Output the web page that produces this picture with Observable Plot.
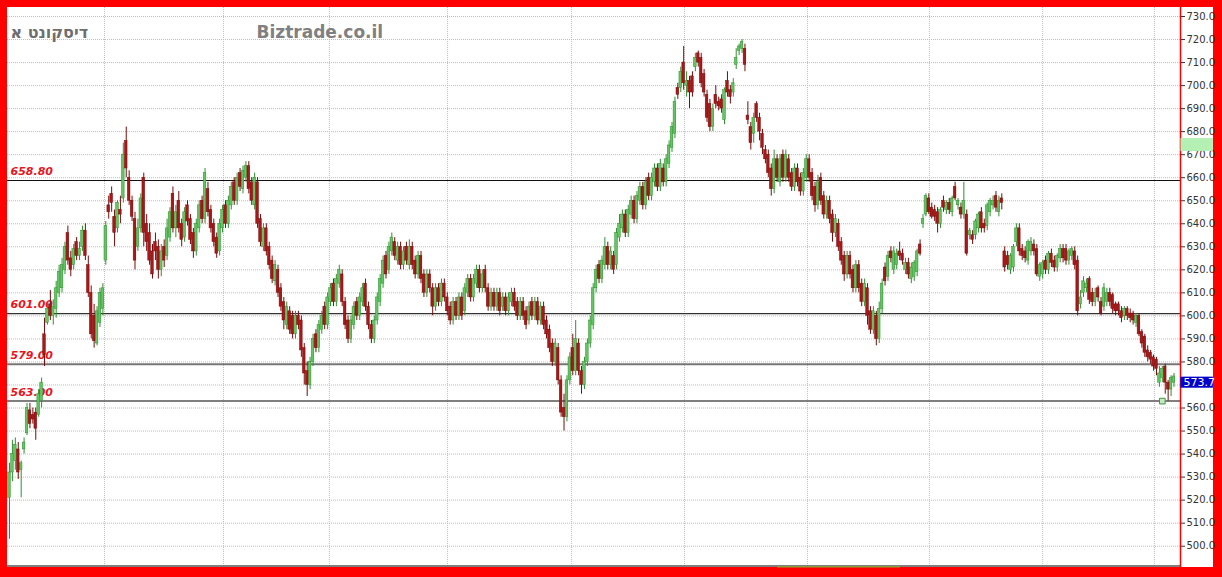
<!DOCTYPE html>
<html><head><meta charset="utf-8">
<script src="https://cdn.jsdelivr.net/npm/d3@7"></script>
<script src="https://cdn.jsdelivr.net/npm/@observablehq/plot@0.6"></script>
<style>
html,body{margin:0;padding:0;background:#fff;}
#frame{position:relative;width:1222px;height:577px;background:#ff0000;box-sizing:border-box;padding:7px 9px 10px 7px;}
#chart svg{display:block;background:#fff;}
</style></head><body>
<div id="frame"><div id="chart"></div></div>
<script>
const titleText = "דיסקונט א";
const siteText = "Biztrade.co.il";
const yGrid = [500,510,520,530,540,550,560,570,580,590,600,610,620,630,640,650,660,670,680,690,700,710,720,730];
const yTickLabels = [500,510,520,530,540,550,560,580,590,600,610,620,630,640,650,660,670,680,690,700,710,720,730];
const gridIdx = [32.55,73.3,109.6,150.1,192.6,231.3,273.4,315.2,354.0,392.3];
const levels = [658.8,601,579,563];
const lastPrice = 573.7;
const markerIdx = 395, markerPrice = 563;
const axisBand = [671.4,677.0];
const scrollIdx = [263.2,305.3];

const opens = [
521,532,537,542,533,542,549,559,557,558,
557,563,592,597,605,600,603,610,612,620,
636,625,622,632,626,630,637,622,610,600,
588,597,603,624,648,653,643,638,646,651,
676,660,650,642,630,638,660,640,636,628,
632,630,620,630,626,634,653,638,650,640,
634,648,642,636,628,638,650,642,655,646,
640,634,628,638,648,640,648,658,650,662,
655,660,665,658,648,658,642,630,638,630,
624,615,620,612,606,596,602,600,592,600,
598,586,576,570,580,592,586,594,604,596,
606,614,606,614,618,606,598,590,596,606,
600,606,614,604,596,590,598,606,614,626,
620,628,632,624,630,622,630,622,630,624,
618,626,618,610,618,612,604,612,606,614,
608,604,598,606,600,608,602,610,616,608,
614,620,612,620,612,604,610,604,610,604,
608,602,606,610,606,600,606,602,598,606,
600,606,598,604,598,594,588,580,586,572,
560,556,572,586,576,588,576,570,580,588,
596,612,622,616,622,630,622,626,622,634,
638,644,636,644,650,642,650,656,648,660,
652,658,664,656,664,658,666,673,679,699,
699,710,700,702,704,708,714,712,705,696,
692,682,696,693,694,685,702,698,697,709,
715,716,716,687,682,679,692,686,679,672,
670,664,655,668,658,670,660,668,662,656,
664,660,654,660,668,662,656,648,660,652,
644,650,644,636,640,632,626,618,626,620,
612,622,614,606,612,602,594,600,590,603,
621,617,628,620,622,628,627,620,623,616,
617,619,631,640,644,651,647,646,645,640,
650,646,649,645,656,648,647,644,644,635,
635,635,638,645,640,639,645,648,652,645,
651,628,626,620,621,632,638,629,628,624,
628,631,629,617,618,624,620,627,624,621,
625,629,629,624,626,628,624,605,610,612,
616,610,606,612,606,604,606,610,609,605,
605,602,600,603,601,601,597,600,593,591,
585,584,582,581,571,573,578,571,568,571];
const highs = [
536,546,547,545,537,547,562,562,560,560,
568,573,599,606,611,607,615,622,625,632,
639,628,631,634,632,639,640,626,613,605,
604,612,614,641,652,656,646,650,652,675,
682,663,652,645,642,653,662,644,640,631,
636,633,631,633,642,647,656,648,654,642,
647,650,644,638,642,650,652,664,658,648,
642,636,642,648,650,652,658,660,662,664,
665,667,667,660,662,660,644,640,640,632,
626,624,622,614,608,606,604,602,602,602,
600,588,580,582,592,594,598,602,606,610,
614,616,618,622,620,608,600,600,606,608,
610,614,616,606,598,600,610,618,626,628,
632,636,634,632,632,630,632,633,632,626,
628,628,620,620,620,614,614,614,616,616,
610,606,608,608,610,610,614,618,618,618,
622,622,620,622,614,612,612,612,612,610,
610,610,612,612,608,608,608,604,606,608,
608,608,606,606,600,596,590,590,588,574,
566,574,584,592,598,590,578,582,590,600,
614,622,624,626,634,632,630,628,638,644,
646,646,648,652,652,654,658,658,660,662,
662,666,666,668,666,670,676,684,695,701,
708,717,706,704,706,714,715,714,707,698,
694,692,700,695,696,699,706,700,703,716,
718,720,718,693,684,688,693,688,681,674,
672,666,672,670,670,672,672,670,664,666,
666,662,664,670,670,664,658,661,662,654,
652,652,646,644,642,634,628,628,628,622,
624,624,616,616,614,604,604,602,606,616,
623,628,630,630,629,632,629,625,625,623,
624,629,633,644,653,653,649,648,647,647,
652,650,651,652,658,651,649,658,646,638,
637,642,645,647,642,649,651,652,654,652,
653,630,628,627,631,640,640,631,630,633,
634,633,631,623,624,626,628,629,626,627,
631,631,631,629,630,630,626,611,617,616,
617,612,612,613,608,614,612,612,610,606,
606,604,604,604,603,602,601,601,594,592,
587,585,583,582,578,578,579,572,574,575];
const lows = [
503,528,533,529,521,540,548,551,553,546,
556,560,578,596,598,596,599,608,610,618,
622,617,620,624,624,628,624,608,590,586,
587,595,600,622,642,645,630,636,640,649,
660,648,641,620,628,636,630,628,622,616,
624,616,617,621,624,632,636,634,636,630,
632,639,631,625,626,636,640,640,643,636,
630,625,626,636,638,638,646,648,648,654,
653,658,653,648,646,638,630,628,626,620,
614,613,608,602,594,594,592,590,590,594,
582,570,565,568,578,584,584,592,594,594,
604,604,604,612,604,594,588,588,594,598,
598,604,602,594,588,588,596,604,612,616,
618,626,624,622,620,620,622,620,620,616,
616,614,608,608,610,600,602,604,604,606,
600,596,596,598,598,598,600,608,606,606,
612,610,610,610,602,602,602,602,600,602,
600,600,604,602,598,598,598,594,596,598,
598,596,596,594,590,584,578,578,570,556,
550,554,570,574,574,574,566,568,578,586,
594,610,614,614,620,620,620,618,620,632,
636,634,634,642,640,640,648,646,646,650,
650,656,654,654,656,656,664,671,677,694,
697,698,695,690,695,706,708,699,695,684,
680,680,690,689,688,683,695,692,695,707,
713,714,706,683,672,675,684,676,670,666,
660,652,653,658,656,658,658,658,654,654,
656,652,652,658,658,650,645,646,648,642,
642,640,632,634,628,622,615,616,616,610,
610,610,604,604,596,592,592,587,588,601,
613,615,623,618,620,624,622,618,616,614,
615,617,626,638,643,644,642,641,636,638,
645,644,644,643,650,646,642,642,626,633,
631,633,636,636,636,637,643,646,645,643,
646,619,620,618,619,630,626,624,623,622,
626,626,617,615,616,618,618,621,619,619,
623,623,622,622,624,620,600,603,608,610,
605,604,604,606,600,602,604,604,601,600,
600,597,598,598,597,596,595,591,586,582,
580,579,576,574,569,571,566,563,565,569];
const closes = [
532,540,544,532,536,545,560,553,555,551,
566,571,583,603,600,604,612,619,622,630,
624,620,629,626,629,637,626,610,592,589,
602,610,612,639,645,649,636,649,644,670,
664,650,643,624,638,651,636,632,624,618,
628,620,628,624,638,645,638,645,638,633,
645,641,633,628,640,648,642,662,645,638,
632,627,640,646,640,650,656,650,660,656,
663,665,655,650,660,640,632,638,628,622,
616,622,610,604,598,604,594,592,600,596,
585,575,570,580,590,586,596,600,596,608,
612,606,616,620,606,596,590,598,604,600,
608,612,604,596,590,598,608,616,624,618,
630,634,626,630,622,628,624,630,622,618,
626,616,610,618,612,604,612,606,614,608,
602,598,606,600,608,600,612,616,608,616,
620,612,618,612,604,610,604,610,602,608,
602,608,610,604,600,606,600,596,604,600,
606,598,604,596,592,586,580,588,572,558,
556,572,582,576,590,576,570,580,588,598,
612,620,616,624,630,622,628,620,636,640,
644,636,646,650,642,652,656,648,658,652,
660,664,656,666,658,668,674,682,693,696,
706,701,702,697,697,712,710,701,697,686,
682,690,692,691,690,698,697,695,701,712,
717,719,709,685,675,686,686,680,673,668,
662,655,668,660,668,660,670,660,656,664,
658,654,662,668,660,652,648,658,650,644,
650,642,636,642,630,624,618,626,618,612,
622,612,606,614,600,594,602,590,603,614,
615,626,625,628,627,626,624,623,618,621,
623,628,627,642,652,645,643,643,640,646,
647,649,646,651,651,650,644,650,627,637,
633,641,644,638,638,648,650,650,647,650,
649,621,622,626,630,638,628,626,625,632,
632,628,618,622,623,620,627,623,621,626,
629,625,624,628,629,622,602,608,615,614,
607,606,610,608,601,612,610,606,603,602,
602,599,603,600,599,598,600,592,588,584,
582,581,578,577,575,577,571,568,573,573.7];

const candles = closes.map((c, i) => ({i, o: opens[i], h: highs[i], l: lows[i], c}));
const up = candles.filter(d => d.c >= d.o);
const down = candles.filter(d => d.c < d.o);

const xMin = -0.685, xMax = 401.23, xAxisEnd = 412.5;
const GREEN_FILL = "#62c462", GREEN_LINE = "#2f8f2f", RED_FILL = "#a81818", RED_LINE = "#7a0a0a";
const levelStyles = [
  {stroke: "#111", w: 1.2},
  {stroke: "#333", w: 1.2},
  {stroke: "#777", w: 2},
  {stroke: "#555", w: 1.5}
];
const levelData = levels.map((v, k) => ({v, ...levelStyles[k]}));

const chart = Plot.plot({
  width: 1206, height: 560,
  marginLeft: 0, marginRight: 33, marginTop: 0, marginBottom: 0,
  style: {fontFamily: "DejaVu Sans, sans-serif", fontSize: "10px", color: "#333", background: "#fff", overflow: "visible"},
  x: {domain: [xMin, xMax], axis: null},
  y: {domain: [490.75, 733.91], axis: "right", ticks: yTickLabels, tickFormat: d => d.toFixed(1), tickSize: 4, tickPadding: 2, label: null},
  marks: [
    Plot.ruleY(yGrid, {stroke: "#bdbdbd", strokeDasharray: "1,1"}),
    Plot.ruleX(gridIdx, {stroke: "#bdbdbd", strokeDasharray: "1,1"}),
    ...levelData.map(d => Plot.ruleY([d.v], {stroke: d.stroke, strokeWidth: d.w})),
    Plot.text(levels, {x: xMin, y: d => d, text: d => d.toFixed(2), textAnchor: "start", dx: 3, dy: -9,
      fill: "#e8141e", fontWeight: "bold", fontStyle: "italic", fontSize: 11}),
    Plot.ruleX(up, {x: "i", y1: "l", y2: "h", stroke: GREEN_LINE, strokeWidth: 1}),
    Plot.ruleX(down, {x: "i", y1: "l", y2: "h", stroke: RED_LINE, strokeWidth: 1}),
    Plot.rect(up, {x1: d => d.i - 0.45, x2: d => d.i + 0.45, y1: "o", y2: "c", fill: GREEN_FILL, stroke: GREEN_LINE, strokeWidth: 0.5}),
    Plot.rect(down, {x1: d => d.i - 0.45, x2: d => d.i + 0.45, y1: "o", y2: "c", fill: RED_FILL, stroke: RED_LINE, strokeWidth: 0.5}),
    Plot.dot([{i: markerIdx, v: markerPrice}], {x: "i", y: "v", symbol: "square", r: 3.2, stroke: "#3a9a3a", fill: "#c6e6c6", strokeWidth: 1}),
    Plot.ruleY([491.4], {x1: xMin, x2: xMax, stroke: "#555", strokeWidth: 1.5}),
    Plot.ruleY([491.1], {x1: scrollIdx[0], x2: scrollIdx[1], stroke: "#8aa040", strokeWidth: 1.5}),
    Plot.ruleX([xMax], {stroke: "#ff0000", strokeWidth: 1.5}),
    Plot.rect([axisBand], {x1: xMax + 0.15, x2: xAxisEnd, y1: d => d[0], y2: d => d[1], fill: "#b4f0b4"}),
    Plot.rect([lastPrice], {x1: xMax + 0.15, x2: xAxisEnd, y1: d => d - 0.3, y2: d => d - 5.1, fill: "#0000cc"}),
    Plot.text([lastPrice], {x: xMax, y: d => d - 2.7, text: d => d.toFixed(1), textAnchor: "start", dx: 3, fill: "#fff", fontSize: 11}),
    Plot.text([titleText], {frameAnchor: "top-left", dx: 3, dy: 25, textAnchor: "start", lineAnchor: "middle",
      fill: "#6e6e6e", fontSize: 16, fontWeight: "bold"}),
    Plot.text([siteText], {frameAnchor: "top-left", dx: 249, dy: 25, textAnchor: "start", lineAnchor: "middle",
      fill: "#808080", fontSize: 17, fontWeight: "bold"})
  ]
});
document.getElementById("chart").appendChild(chart);
</script>
</body></html>
